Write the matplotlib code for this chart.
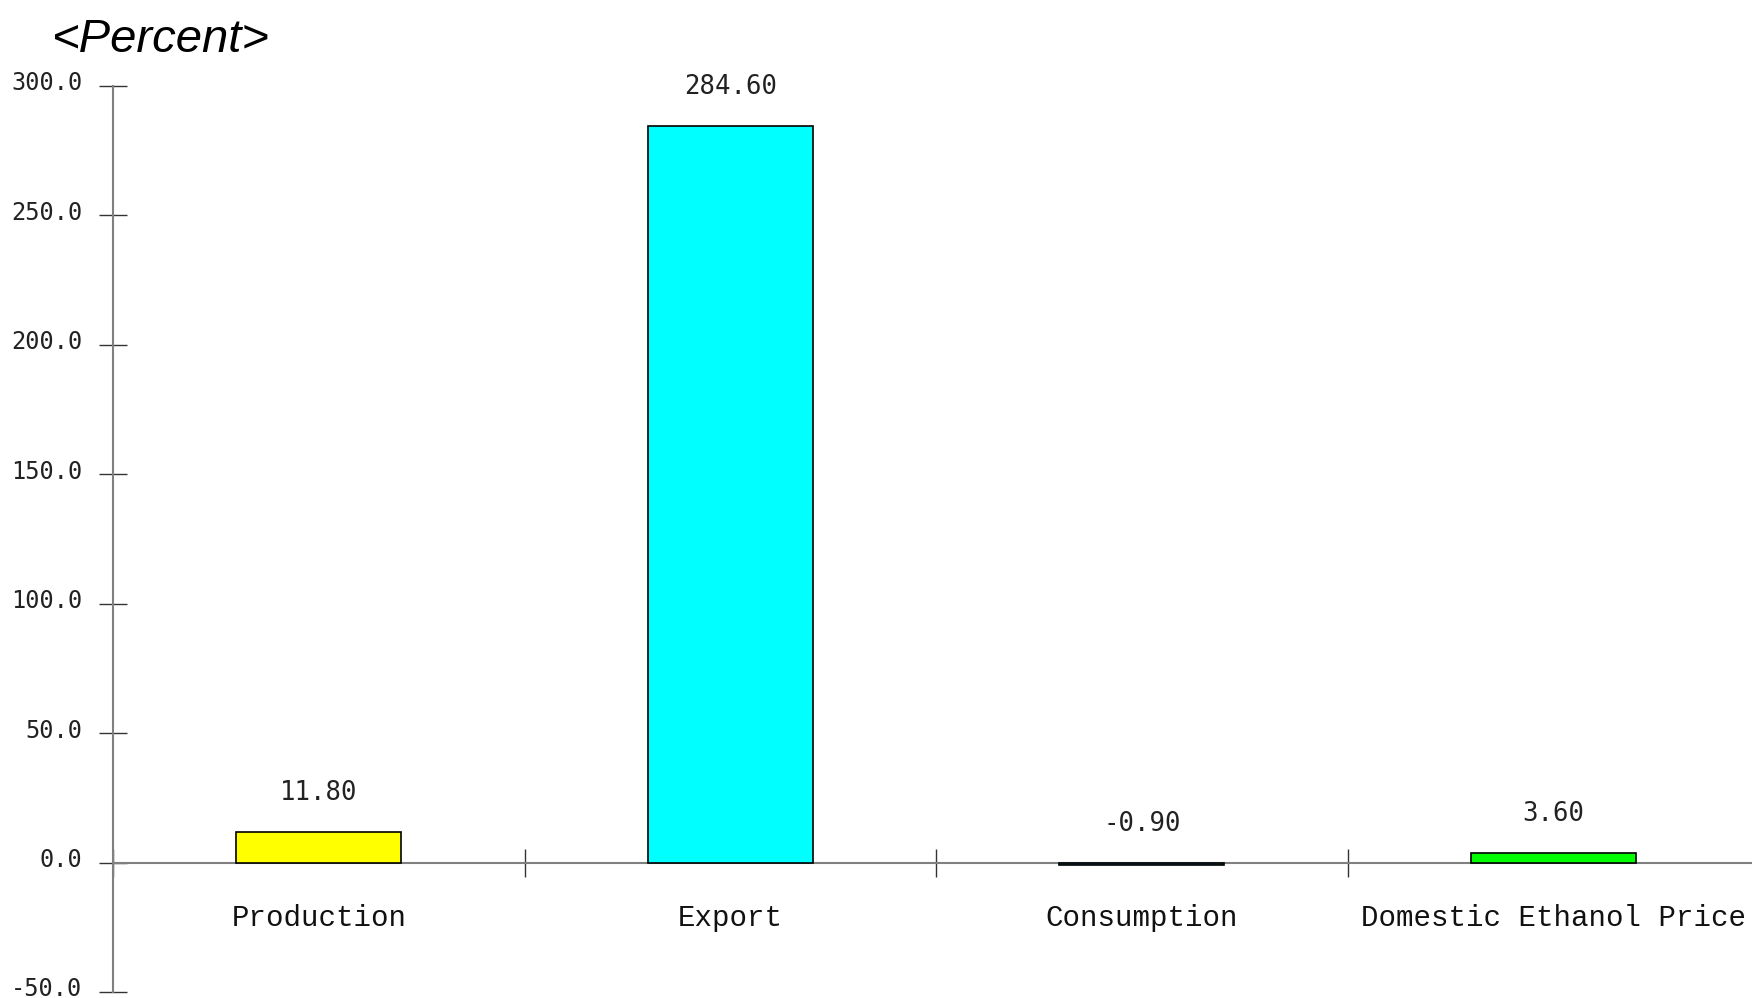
import matplotlib
matplotlib.use("Agg")
import matplotlib.pyplot as plt
import matplotlib.transforms as mtransforms

categories = ["Production", "Export", "Consumption", "Domestic Ethanol Price"]
values = [11.80, 284.60, -0.90, 3.60]
colors = ["#FFFF00", "#00FFFF", "#1E6E82", "#00FF00"]
yticks = [-50, 0, 50, 100, 150, 200, 250, 300]
ytick_labels = ["-50.0", "0.0", "50.0", "100.0", "150.0", "200.0", "250.0", "300.0"]
title = "<Percent>"

fig = plt.figure(figsize=(17.52, 9.98), dpi=100)
ax = fig.add_axes([113 / 1752, 6 / 998, 1646 / 1752, 906 / 998])
ax.set_xlim(0, len(categories))
ax.set_ylim(-50, 300)

centers = [i + 0.5 for i in range(len(categories))]
ax.bar(centers, values, width=0.40, color=colors, edgecolor="black", linewidth=1.2, zorder=3)

for x, v in zip(centers, values):
    ax.annotate(f"{v:.2f}", xy=(x, max(v, 0)), xytext=(0, 28), textcoords="offset points",
                ha="center", va="center", fontsize=18.5, family="DejaVu Sans Mono", color="#222222")

for s in ["top", "right"]:
    ax.spines[s].set_visible(False)
ax.spines["left"].set_color("#808080")
ax.spines["left"].set_linewidth(1.5)
ax.spines["bottom"].set_position(("data", 0))
ax.spines["bottom"].set_color("#808080")
ax.spines["bottom"].set_linewidth(1.5)
ax.spines["bottom"].set_zorder(2)

ax.set_yticks(yticks)
ax.set_yticklabels(ytick_labels, family="DejaVu Sans Mono", fontsize=17, color="#222222")
ax.tick_params(axis="y", direction="inout", length=20, width=1.0, color="#333333", pad=12)
shift_up = mtransforms.ScaledTranslation(0, 5 / 100, fig.dpi_scale_trans)
for lab in ax.get_yticklabels():
    lab.set_transform(lab.get_transform() + shift_up)

ax.set_xticks(list(range(len(categories) + 1)))
ax.set_xticklabels([])
ax.set_xticks(centers, minor=True)
ax.set_xticklabels(categories, minor=True, family="Liberation Mono", fontsize=21, color="#111111")
ax.tick_params(axis="x", which="major", direction="inout", length=20, width=1.0, color="#333333")
ax.tick_params(axis="x", which="minor", length=0, pad=30)

fig.text(52 / 1752, 0.948, title, fontsize=34, style="italic", family="Liberation Sans",
         ha="left", va="baseline")

fig.savefig("out.png", dpi=100)
